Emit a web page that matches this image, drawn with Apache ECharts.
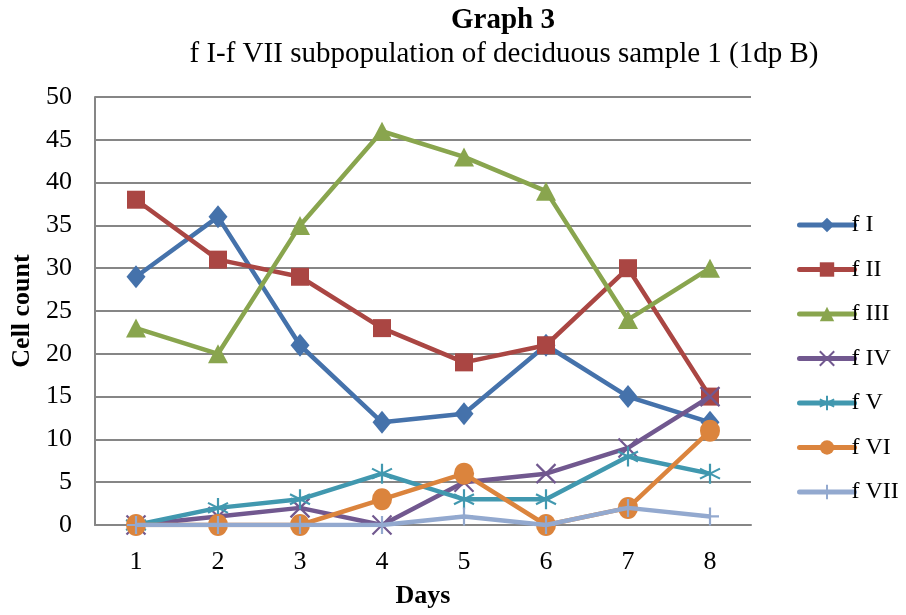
<!DOCTYPE html>
<html>
<head>
<meta charset="utf-8">
<script src="https://cdn.jsdelivr.net/npm/echarts@6/dist/echarts.min.js"></script>
<style>
  html, body { margin: 0; padding: 0; background: #fff; }
  #chart { width: 906px; height: 615px; }
</style>
</head>
<body>
<div id="chart"></div>
<script>
// Days on the x axis
const days = ['1', '2', '3', '4', '5', '6', '7', '8'];

// Cell counts per subpopulation
const fI   = [29, 36, 21, 12, 13, 21, 15, 12];
const fII  = [38, 31, 29, 23, 19, 21, 30, 15];
const fIII = [23, 20, 35, 46, 43, 39, 24, 30];
const fIV  = [0, 1, 2, 0, 5, 6, 9, 15];
const fV   = [0, 2, 3, 6, 3, 3, 8, 6];
const fVI  = [0, 0, 0, 3, 6, 0, 2, 11];
const fVII = [0, 0, 0, 0, 1, 0, 2, 1];

const seriesNames = ['f I', 'f II', 'f III', 'f IV', 'f V', 'f VI', 'f VII'];
const seriesData = [fI, fII, fIII, fIV, fV, fVI, fVII];
const colors = ['#4572AB', '#AA4643', '#89A54E', '#71588F', '#4198AF', '#DB843D', '#93A9CF'];

const symbols = [
  'diamond',
  'rect',
  'triangle',
  'path://M0,0 L10,10 M10,0 L0,10',
  'path://M5,0 L5,10 M0,2.5 L10,7.5 M0,7.5 L10,2.5',
  'circle',
  'path://M5,0 L5,10 M0,5 L10,5'
];
const symbolSizes = [[19, 23], 18, [20, 19], 19, 20, [20, 22], 18];
const stroked = [false, false, false, true, true, false, true];

const font = '"Liberation Serif", "Times New Roman", serif';

const chart = echarts.init(document.getElementById('chart'), null, { renderer: 'canvas' });

chart.setOption({
  backgroundColor: '#fff',
  animation: false,
  title: [
    { text: 'Graph 3', left: 498, top: 1, textAlign: 'center',
      textStyle: { fontFamily: font, fontSize: 29, fontWeight: 'bold', color: '#000' } },
    { text: 'f I-f VII subpopulation of deciduous sample 1 (1dp B)', left: 499, top: 35, textAlign: 'center',
      textStyle: { fontFamily: font, fontSize: 29, fontWeight: 'normal', color: '#000' } }
  ],
  legend: {
    orient: 'vertical',
    left: 792,
    top: 208,
    itemWidth: 55,
    itemHeight: 18,
    itemGap: 20.5,
    data: seriesNames,
    lineStyle: { width: 5, cap: 'round' },
    textStyle: { fontFamily: font, fontSize: 24, color: '#000', padding: [0, 0, 0, -8] }
  },
  grid: { left: 95, top: 97, width: 656, height: 428 },
  xAxis: {
    type: 'category',
    data: days,
    boundaryGap: true,
    name: 'Days',
    nameLocation: 'middle',
    nameGap: 58,
    nameTextStyle: { fontFamily: font, fontSize: 26, fontWeight: 'bold', color: '#000' },
    axisLine: { lineStyle: { color: '#868686', width: 2 } },
    axisTick: { show: false },
    axisLabel: { fontFamily: font, fontSize: 26, color: '#000', margin: 24 },
    splitLine: { show: false }
  },
  yAxis: {
    type: 'value',
    min: 0,
    max: 50,
    interval: 5,
    name: 'Cell count',
    nameLocation: 'middle',
    nameGap: 58,
    nameRotate: 90,
    nameTextStyle: { fontFamily: font, fontSize: 26, fontWeight: 'bold', color: '#000' },
    axisLine: { show: true, lineStyle: { color: '#868686', width: 2 } },
    axisTick: { show: false },
    axisLabel: { fontFamily: font, fontSize: 26, color: '#000', margin: 23 },
    splitLine: { lineStyle: { color: '#868686', width: 2 } }
  },
  series: seriesNames.map((name, i) => ({
    name: name,
    type: 'line',
    data: seriesData[i],
    symbol: symbols[i],
    symbolSize: symbolSizes[i],
    showAllSymbol: true,
    z: 2 + i,
    lineStyle: { color: colors[i], width: 4.5 },
    itemStyle: stroked[i]
      ? { color: colors[i], borderColor: colors[i], borderWidth: 2.2 }
      : { color: colors[i], borderWidth: 0 },
    emphasis: { disabled: true }
  }))
});
</script>
</body>
</html>
